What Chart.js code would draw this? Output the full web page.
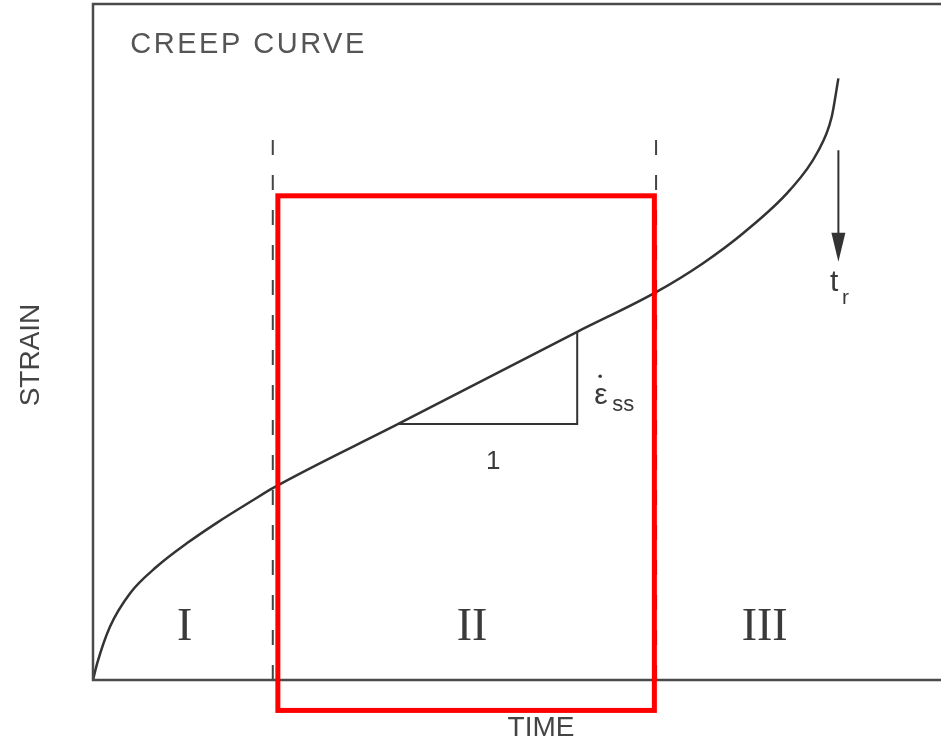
<!DOCTYPE html>
<html>
<head>
<meta charset="utf-8">
<script src="https://cdn.jsdelivr.net/npm/chart.js@4.4.0/dist/chart.umd.min.js"></script>
<style>
  html, body { margin: 0; padding: 0; background: #fff; }
  #wrap { width: 941px; height: 742px; }
</style>
</head>
<body>
<div id="wrap"><canvas id="creepChart" width="941" height="742"></canvas></div>
<script>
// creep curve (time / strain in arbitrary units)
const curveTime   = [0, 0.05, 0.20, 0.44, 0.75, 1.11, 1.46, 1.89, 2.12, 3.60, 5.71, 6.64, 7.19, 7.67, 8.22, 8.54, 8.71, 8.79];
const curveStrain = [0, 0.20, 0.63, 1.03, 1.34, 1.62, 1.86, 2.13, 2.27, 3.03, 4.12, 4.59, 4.93, 5.29, 5.80, 6.24, 6.66, 7.12];

// stage boundaries (dashed lines)
const stageBounds = [2.12, 6.64];
const boundTop = 6.57;
const stageNames = ['I', 'II', 'III'];
const stageNameX = [1.08, 4.47, 7.92];
const stageNameY = 0.62;

// slope triangle under the steady-state part
const slopeTime = [3.60, 5.71];
const slopeStrain = [3.03, 4.12];

// rupture time arrow
const ruptureTime = 8.79;
const arrowStrain = [6.27, 4.95];

// highlighted stage II box
const boxTime = [2.18, 6.62];
const boxStrain = [-0.36, 5.73];

const pts = (xs, ys) => xs.map((x, i) => ({ x: x, y: ys[i] }));

const lineColor = '#333';

const overlayPlugin = {
    id: 'overlay',
    afterDatasetsDraw(chart) {
        const ctx = chart.ctx;
        const xs = chart.scales.x, ys = chart.scales.y;
        const a = chart.chartArea;
        const px = v => xs.getPixelForValue(v);
        const py = v => ys.getPixelForValue(v);

        ctx.save();
        // frame (left, top, bottom)
        ctx.strokeStyle = '#4a4a4a';
        ctx.lineWidth = 2.5;
        ctx.beginPath();
        ctx.moveTo(a.right + 2, a.top);
        ctx.lineTo(a.left, a.top);
        ctx.lineTo(a.left, a.bottom);
        ctx.lineTo(a.right + 2, a.bottom);
        ctx.stroke();

        // arrow head
        const tipY = py(arrowStrain[1]);
        const ax = px(ruptureTime);
        ctx.fillStyle = lineColor;
        ctx.beginPath();
        ctx.moveTo(ax, tipY);
        ctx.lineTo(ax - 7, tipY - 29);
        ctx.lineTo(ax + 7, tipY - 29);
        ctx.closePath();
        ctx.fill();

        // texts
        ctx.fillStyle = '#555';
        ctx.textBaseline = 'middle';
        ctx.font = '29px "Liberation Sans", Arial, sans-serif';
        ctx.letterSpacing = '2.5px';
        ctx.textAlign = 'left';
        ctx.fillText('CREEP CURVE', px(0.44), py(7.52));
        ctx.letterSpacing = '0px';

        ctx.fillStyle = '#3a3a3a';
        ctx.font = '46px "Liberation Serif", "DejaVu Serif", serif';
        ctx.textAlign = 'center';
        stageNames.forEach((n, i) => {
            ctx.fillText(n, px(stageNameX[i]), py(stageNameY));
        });

        ctx.font = '26px "Liberation Sans", Arial, sans-serif';
        ctx.fillText('1', px(4.72), py(2.58));

        // epsilon dot ss
        ctx.textAlign = 'left';
        ctx.font = '30px "Liberation Sans", Arial, sans-serif';
        const ex = px(5.91), ey = py(3.37);
        ctx.fillText('\u03b5', ex, ey);
        ctx.beginPath();
        ctx.arc(ex + 6, ey - 19, 1.8, 0, Math.PI * 2);
        ctx.fill();
        ctx.font = '22px "Liberation Sans", Arial, sans-serif';
        ctx.fillText('ss', ex + 18, ey + 10);

        // t_r
        ctx.font = '30px "Liberation Sans", Arial, sans-serif';
        const tx = px(8.69), ty = py(4.7);
        ctx.fillText('t', tx, ty);
        ctx.font = '21px "Liberation Sans", Arial, sans-serif';
        ctx.fillText('r', tx + 12, ty + 15);

        // axis titles
        ctx.fillStyle = '#444';
        ctx.font = '28px "Liberation Sans", Arial, sans-serif';
        ctx.textAlign = 'center';
        ctx.fillText('TIME', 541, 728);
        ctx.translate(31, 355);
        ctx.rotate(-Math.PI / 2);
        ctx.fillText('STRAIN', 0, 0);
        ctx.restore();

        // red highlight box
        ctx.save();
        ctx.strokeStyle = '#ff0000';
        ctx.lineWidth = 5;
        ctx.strokeRect(px(boxTime[0]), py(boxStrain[1]), px(boxTime[1]) - px(boxTime[0]), py(boxStrain[0]) - py(boxStrain[1]));
        ctx.restore();
    }
};

const dashStyle = { borderColor: '#444', borderWidth: 2, borderDash: [15, 20], pointRadius: 0, showLine: true, tension: 0 };

new Chart(document.getElementById('creepChart').getContext('2d'), {
    type: 'scatter',
    data: {
        datasets: [
            {
                data: pts(curveTime, curveStrain),
                showLine: true,
                borderColor: lineColor,
                borderWidth: 2.5,
                pointRadius: 0,
                cubicInterpolationMode: 'monotone'
            },
            Object.assign({ data: pts([stageBounds[0], stageBounds[0]], [0, boundTop]) }, dashStyle),
            Object.assign({ data: pts([stageBounds[1], stageBounds[1]], [0, boundTop]) }, dashStyle),
            {
                data: pts([slopeTime[0], slopeTime[1], slopeTime[1]], [slopeStrain[0], slopeStrain[0], slopeStrain[1]]),
                showLine: true, borderColor: lineColor, borderWidth: 2, pointRadius: 0, tension: 0
            },
            {
                data: pts([ruptureTime, ruptureTime], [arrowStrain[0], arrowStrain[1] + 0.3]),
                showLine: true, borderColor: lineColor, borderWidth: 2, pointRadius: 0
            }
        ]
    },
    options: {
        responsive: false,
        animation: false,
        layout: { padding: { left: 93, top: 4, right: 0, bottom: 62 } },
        plugins: { legend: { display: false }, tooltip: { enabled: false } },
        scales: {
            x: { type: 'linear', display: false, min: 0, max: 10 },
            y: { type: 'linear', display: false, min: 0, max: 8 }
        }
    },
    plugins: [overlayPlugin]
});
</script>
</body>
</html>
